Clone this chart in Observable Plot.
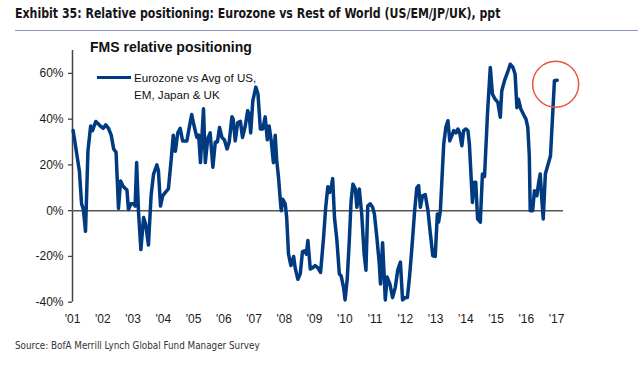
<!DOCTYPE html>
<html>
<head>
<meta charset="utf-8">
<script src="https://cdn.jsdelivr.net/npm/d3@7"></script>
<script src="https://cdn.jsdelivr.net/npm/@observablehq/plot@0.6"></script>
<style>
  body { margin: 0; background: #fff; }
  #wrap { position: relative; width: 638px; height: 381px; overflow: hidden; font-family: "Liberation Sans", Arial, sans-serif; }
  #title { position: absolute; left: 15px; top: 5px; font: bold 13.5px "Liberation Sans Narrow", "DejaVu Sans Condensed", sans-serif; color: #161616; white-space: nowrap; transform: scaleX(0.905); transform-origin: 0 0; }
  #rule { position: absolute; left: 15px; right: 0; top: 30px; border-top: 1px solid #8a9bbb; }
  #chart { position: absolute; left: 0; top: 35px; }
  #sub { position: absolute; left: 90px; top: 39px; font: bold 14px "Liberation Sans", Arial, sans-serif; color: #111; white-space: nowrap; }
  #legline { position: absolute; left: 97px; top: 75.5px; width: 34px; height: 3.5px; background: #003a80; }
  #legtext { position: absolute; left: 134px; top: 68.5px; font: 11.6px "Liberation Sans", Arial, sans-serif; line-height: 17px; color: #111; white-space: nowrap; }
  #source { position: absolute; left: 15px; top: 339px; font: 11px "Liberation Sans Narrow", "DejaVu Sans Condensed", sans-serif; color: #333; white-space: nowrap; transform: scaleX(0.89); transform-origin: 0 0; }
</style>
</head>
<body>
<div id="wrap">
  <div id="title">Exhibit 35: Relative positioning: Eurozone vs Rest of World (US/EM/JP/UK), ppt</div>
  <div id="rule"></div>
  <div id="chart"></div>
  <div id="sub">FMS relative positioning</div>
  <div id="legline"></div>
  <div id="legtext">Eurozone vs Avg of US,<br>EM, Japan &amp; UK</div>
  <div id="source">Source: BofA Merrill Lynch Global Fund Manager Survey</div>
</div>
<script>
// Decimal-year positions of the traced line vertices
const years = [
  2001.02, 2001.08, 2001.15, 2001.23, 2001.30, 2001.36, 2001.43, 2001.51, 2001.60, 2001.66,
  2001.77, 2001.92, 2002.02, 2002.10, 2002.19, 2002.28, 2002.36, 2002.44, 2002.52, 2002.59,
  2002.66, 2002.72, 2002.80, 2002.85, 2002.93, 2003.02, 2003.07, 2003.12, 2003.18, 2003.26,
  2003.35, 2003.42, 2003.51, 2003.60, 2003.68, 2003.79, 2003.84, 2003.91, 2003.98, 2004.07,
  2004.17, 2004.26, 2004.33, 2004.40, 2004.48, 2004.56, 2004.64, 2004.78, 2004.86, 2004.94,
  2005.02, 2005.11, 2005.17, 2005.23, 2005.33, 2005.39, 2005.47, 2005.55, 2005.64, 2005.72,
  2005.79, 2005.86, 2005.94, 2006.02, 2006.11, 2006.18, 2006.27, 2006.31, 2006.38, 2006.46,
  2006.55, 2006.62, 2006.71, 2006.79, 2006.84, 2006.89, 2006.96, 2007.06, 2007.13, 2007.21,
  2007.29, 2007.37, 2007.44, 2007.50, 2007.57, 2007.64, 2007.70, 2007.75, 2007.81, 2007.87,
  2007.90, 2007.95, 2008.03, 2008.08, 2008.14, 2008.22, 2008.31, 2008.36, 2008.45, 2008.53,
  2008.60, 2008.67, 2008.73, 2008.78, 2008.86, 2008.93, 2009.02, 2009.11, 2009.20, 2009.30,
  2009.37, 2009.44, 2009.50, 2009.55, 2009.60, 2009.66, 2009.74, 2009.82, 2009.88, 2009.96,
  2010.01, 2010.08, 2010.15, 2010.21, 2010.27, 2010.35, 2010.40, 2010.48, 2010.56, 2010.64,
  2010.70, 2010.76, 2010.84, 2010.92, 2010.98, 2011.06, 2011.14, 2011.18, 2011.25, 2011.34,
  2011.40, 2011.49, 2011.58, 2011.67, 2011.75, 2011.84, 2011.91, 2012.00, 2012.07, 2012.14,
  2012.22, 2012.31, 2012.38, 2012.44, 2012.50, 2012.57, 2012.66, 2012.75, 2012.82, 2012.91,
  2012.99, 2013.06, 2013.10, 2013.16, 2013.21, 2013.27, 2013.34, 2013.41, 2013.47, 2013.54,
  2013.60, 2013.68, 2013.74, 2013.80, 2013.87, 2013.93, 2014.00, 2014.07, 2014.12, 2014.22,
  2014.28, 2014.33, 2014.39, 2014.48, 2014.55, 2014.62, 2014.72, 2014.81, 2014.88, 2014.97,
  2015.06, 2015.14, 2015.19, 2015.28, 2015.38, 2015.47, 2015.56, 2015.63, 2015.69, 2015.74,
  2015.82, 2015.91, 2015.99, 2016.05, 2016.10, 2016.13, 2016.21, 2016.27, 2016.35, 2016.41,
  2016.46, 2016.52, 2016.56, 2016.63, 2016.71, 2016.80, 2016.87, 2016.93, 2017.02
];
// Relative positioning, ppt (%)
const values = [
  35, 30, 24, 17, 3, 0.5, -9, 26, 37, 35,
  39, 37, 36, 37.5, 36, 33, 27, 25.5, 1, 13,
  11, 10, 9, 0.5, 3, 3, 2, 21, 0, -17,
  -3, -6, -15, 7, 16, 20, 17.5, 2, 6.5, 8,
  9.5, 22, 33, 26, 34, 36, 30.5, 30.5, 36.4, 42,
  37, 32, 33, 21, 44.5, 21, 31.5, 34, 19, 30,
  30, 36.4, 32, 31, 27, 30, 41, 40, 30.5, 38.5,
  39, 32, 37, 43.7, 42, 34, 48, 54, 51, 35.7,
  35.7, 41, 31, 37, 30.5, 21, 33, 22, 14.5, 4.4,
  0, 5, 3, -3, -19, -24, -20, -25, -30, -27.5,
  -18, -17.5, -19, -13, -25.5, -25, -24, -25, -27, -11.6,
  1.5, 10.5, 8, 10, 14, -3, -13, -27.6, -28.5, -33.5,
  -39, -30, -13, 4.4, 11.6, 9.5, 1.5, 9.5, -1.5, -19,
  -26, 2, 3, 1.5, -1.5, -11.6, -23, -32, -14, -39,
  -29, -32, -38, -33.5, -26, -22.5, -39, -38, -38, -29,
  -16, 0, 10, 11, 1.5, 6.5, 7, 0, -9, -19.7,
  -20, -1.5, -5, 0, 13, 29, 36.4, 39.3, 30.5, 32.8,
  35, 34, 35.7, 34, 28.4, 35, 35.7, 35, 29, 3.6,
  12.4, 12.4, -3.6, -5, 16, 15, 43, 62.6, 51, 48.7,
  47.3, 40.8, 52.4, 56.8, 60.4, 64, 62.6, 59.7, 45, 48.7,
  44.4, 42, 40, 36.4, 24, 0, 0, 8.7, 6.5, 12.4,
  16, 3.6, -3.6, 16, 19.7, 24, 41.5, 56.8, 57
];
const yTicks = [-40, -20, 0, 20, 40, 60];
const yDomain = [-40, 70];
const xTicks = [2001, 2002, 2003, 2004, 2005, 2006, 2007, 2008, 2009, 2010, 2011, 2012, 2013, 2014, 2015, 2016, 2017];
const xDomain = [2001, 2017.23];

const data = years.map((x, i) => ({x, y: values[i]}));
const last = [data[data.length - 1]];

const chart = Plot.plot({
  width: 638,
  height: 300,
  marginLeft: 72,
  marginRight: 75,
  marginTop: 15,
  marginBottom: 33.3,
  x: {domain: xDomain},
  y: {domain: yDomain},
  style: {fontFamily: "'Liberation Sans', Arial, sans-serif", fontSize: "12px", color: "#1a1a1a", background: "transparent"},
  marks: [
    Plot.axisY({ticks: yTicks, tickSize: 4, tickPadding: 5, tickFormat: d => d + "%", stroke: "#444", strokeWidth: 1.3, label: null, fontSize: 12}),
    Plot.axisX({ticks: xTicks, tickSize: 0, tickPadding: 12, tickFormat: d => "'" + String(d).slice(2), label: null, fontSize: 12}),
    Plot.ruleX([xDomain[0]], {y1: yDomain[0], y2: yDomain[1], stroke: "#444", strokeWidth: 1.5}),
    Plot.ruleY([0], {x1: xDomain[0], x2: xDomain[1], stroke: "#555", strokeWidth: 1.5}),
    Plot.line(data, {x: "x", y: "y", stroke: "#003a80", strokeWidth: 3.5, strokeLinejoin: "round", strokeLinecap: "round"}),
    Plot.dot(last, {x: "x", y: "y", r: 23, dx: -1.5, dy: 4, stroke: "#e8563f", strokeWidth: 1.5, fill: "none"})
  ]
});
document.getElementById("chart").appendChild(chart);
</script>
</body>
</html>
